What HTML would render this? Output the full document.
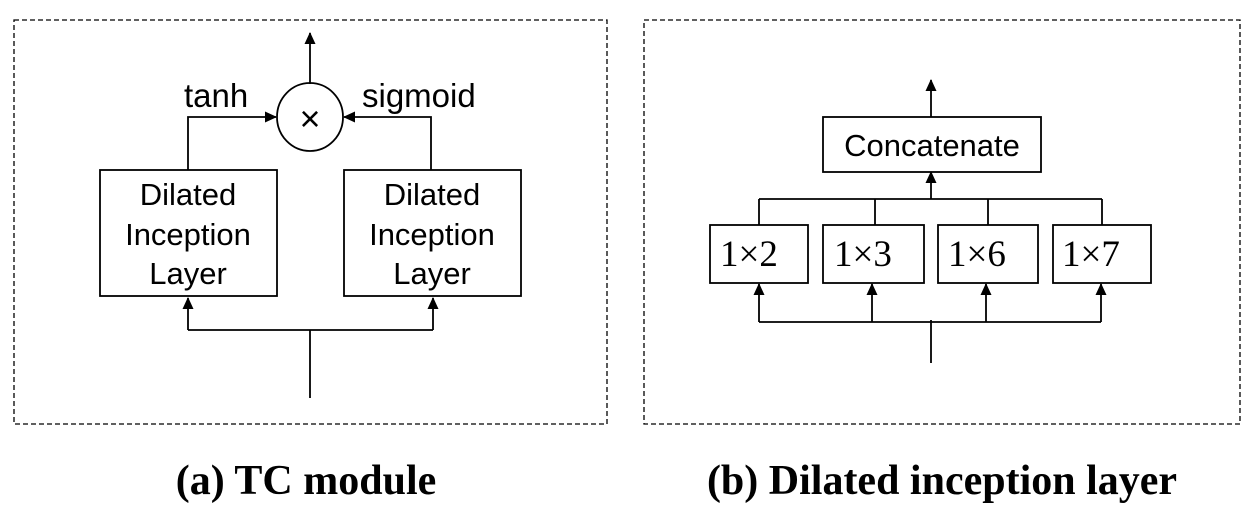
<!DOCTYPE html>
<html><head><meta charset="utf-8"><style>
html,body{margin:0;padding:0;background:#fff;}
svg{display:block;}
.t{font-family:"Liberation Sans",sans-serif;fill:#000;}
.s{font-family:"Liberation Serif",serif;fill:#000;}
.cap{font-family:"Liberation Serif",serif;font-weight:bold;fill:#000;font-size:42px;}
</style></head><body>
<svg width="1246" height="508" viewBox="0 0 1246 508" xmlns="http://www.w3.org/2000/svg">
<defs><marker id="ar" markerWidth="12" markerHeight="12" refX="11" refY="5.5" orient="auto" markerUnits="userSpaceOnUse"><path d="M0,0 L12,5.5 L0,11 z" fill="#000"/></marker></defs>
<g stroke="#000" stroke-width="1.8" fill="none">
<rect x="14" y="20" width="593" height="404" stroke-dasharray="5,3" stroke-width="1.3"/>
<line x1="310" y1="84" x2="310" y2="33" marker-end="url(#ar)"/>
<ellipse cx="310" cy="117" rx="33" ry="34"/>
<polyline points="188,170 188,117 276,117" marker-end="url(#ar)"/>
<polyline points="431,170 431,117 344,117" marker-end="url(#ar)"/>
<rect x="100" y="170" width="177" height="126"/>
<rect x="344" y="170" width="177" height="126"/>
<polyline points="310,398 310,330"/>
<polyline points="188,330 433,330"/>
<line x1="188" y1="330" x2="188" y2="298" marker-end="url(#ar)"/>
<line x1="433" y1="330" x2="433" y2="298" marker-end="url(#ar)"/>
</g>
<text class="t" x="310" y="131" font-size="36" text-anchor="middle">×</text>
<text class="t" x="184" y="107" font-size="33">tanh</text>
<text class="t" x="362" y="107" font-size="33">sigmoid</text>
<g class="t" font-size="31" text-anchor="middle">
<text x="188" y="205">Dilated</text><text x="188" y="245">Inception</text><text x="188" y="284">Layer</text></g>
<g class="t" font-size="31" text-anchor="middle">
<text x="432" y="205">Dilated</text><text x="432" y="245">Inception</text><text x="432" y="284">Layer</text></g>

<g stroke="#000" stroke-width="1.8" fill="none">
<rect x="644" y="20" width="596" height="404" stroke-dasharray="5,3" stroke-width="1.3"/>
<line x1="931" y1="117" x2="931" y2="80" marker-end="url(#ar)"/>
<rect x="823" y="117" width="218" height="55"/>
<line x1="931" y1="199" x2="931" y2="172" marker-end="url(#ar)"/>
<line x1="759" y1="199" x2="1102" y2="199"/>
<line x1="759" y1="199" x2="759" y2="225"/><line x1="875" y1="199" x2="875" y2="225"/>
<line x1="988" y1="199" x2="988" y2="225"/><line x1="1102" y1="199" x2="1102" y2="225"/>
<rect x="710" y="225" width="98" height="58"/>
<rect x="823" y="225" width="101" height="58"/>
<rect x="938" y="225" width="100" height="58"/>
<rect x="1053" y="225" width="98" height="58"/>
<line x1="759" y1="322" x2="1101" y2="322"/>
<line x1="931" y1="320" x2="931" y2="363"/>
<line x1="759" y1="322" x2="759" y2="284" marker-end="url(#ar)"/>
<line x1="872" y1="322" x2="872" y2="284" marker-end="url(#ar)"/>
<line x1="986" y1="322" x2="986" y2="284" marker-end="url(#ar)"/>
<line x1="1101" y1="322" x2="1101" y2="284" marker-end="url(#ar)"/>
</g>
<text class="t" x="932" y="156" font-size="31" text-anchor="middle">Concatenate</text>
<text class="s" x="720" y="266" font-size="37">1×2</text>
<text class="s" x="834" y="266" font-size="37">1×3</text>
<text class="s" x="948" y="266" font-size="37">1×6</text>
<text class="s" x="1062" y="266" font-size="37">1×7</text>

<text class="cap" x="306" y="494" text-anchor="middle">(a) TC module</text>
<text class="cap" x="942" y="494" text-anchor="middle">(b) Dilated inception layer</text>
</svg>
</body></html>
